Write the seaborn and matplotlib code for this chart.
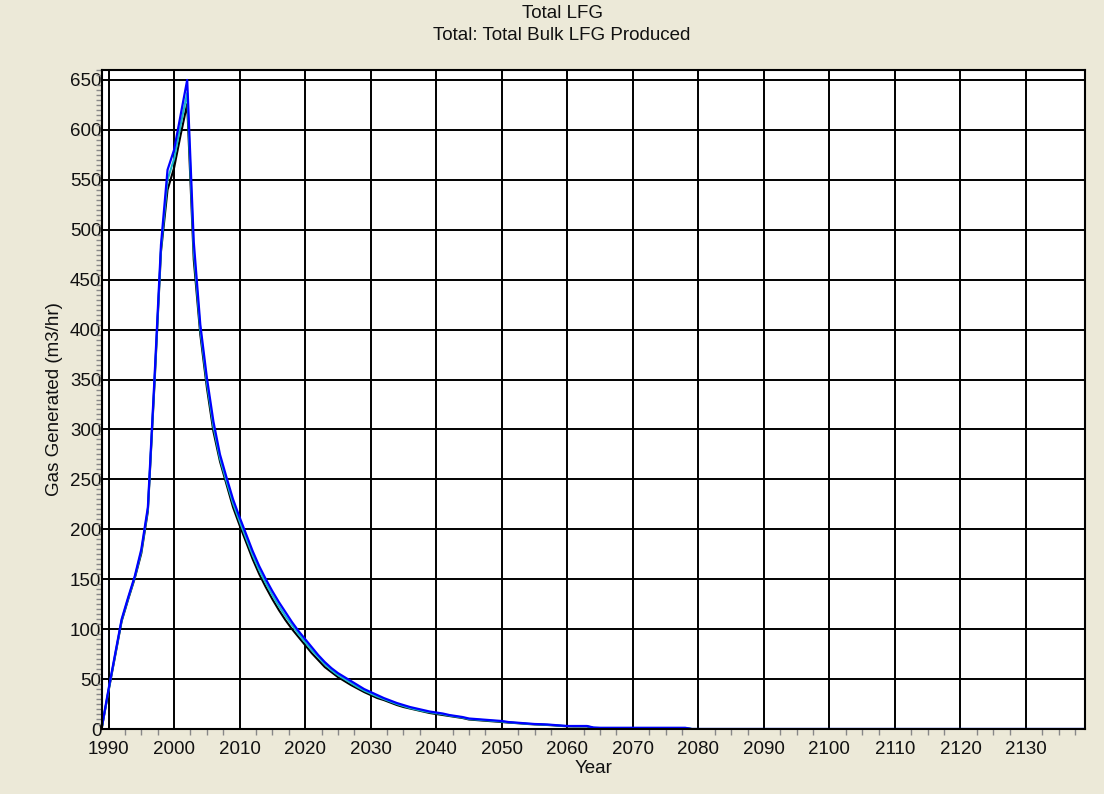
import matplotlib
matplotlib.use("Agg")
import matplotlib.pyplot as plt
from matplotlib.ticker import MultipleLocator
import seaborn as sns
import pandas as pd

# ---- data ----
years = list(range(1989, 2080)) + [2139]

blue = [3, 40, 75, 110, 132, 153, 180, 222, 350, 485,
        560, 580, 615, 650, 488, 405, 352, 308, 275, 252,
        230, 212, 195, 178, 163, 150, 138, 127, 117, 107,
        98, 90, 82, 74, 67, 61, 56, 52, 48, 44,
        40, 37, 34, 31, 28.5, 26, 24, 22, 20.5, 19,
        17.5, 16.5, 15.5, 14, 13, 12, 10.5, 10, 9.5, 9,
        8.5, 8, 7, 6.5, 6, 5.5, 5, 4.8, 4.5, 4,
        3.5, 3, 3, 3, 3, 1.5, 1.2, 1.2, 1.2, 1.2,
        1.2, 1.2, 1.2, 1.2, 1.2, 1.2, 1.2, 1.2, 1.2, 1.2,
        0, 0]

teal = [2.5, 39, 74, 109, 131, 152, 178, 220, 347, 481,
        550, 571, 605, 637, 479, 400, 347, 303, 271, 248,
        226, 208, 191, 174, 159, 146, 134, 123, 113, 104,
        95, 87, 79, 72, 65, 59, 54, 50, 46, 42,
        38.5, 35.5, 32.5, 30, 27.5, 25, 23, 21, 19.5, 18,
        16.8, 15.8, 14.8, 13.5, 12.5, 11.5, 10, 9.5, 9, 8.5,
        8, 7.5, 6.7, 6.2, 5.7, 5.2, 4.8, 4.5, 4.2, 3.8,
        3.3, 2.9, 2.8, 2.8, 2.8, 1.2, 1, 1, 1, 1,
        1, 1, 1, 1, 1, 1, 1, 1, 1, 1,
        0, 0]

black = [2, 38, 73, 108, 130, 151, 176, 218, 344, 478,
         540, 562, 595, 626, 470, 395, 342, 298, 268, 245,
         222, 204, 187, 170, 155, 142, 130, 119, 109, 100,
         92, 84, 76, 69, 62, 57, 52, 48, 44, 40.5,
         37, 34, 31, 29, 26.5, 24, 22, 20.5, 19, 17.5,
         16, 15, 14, 13, 12, 11, 9.5, 9, 8.5, 8,
         7.5, 7, 6.4, 6, 5.5, 5, 4.6, 4.3, 4, 3.6,
         3.1, 2.7, 2.6, 2.6, 2.6, 0.8, 0.8, 0.8, 0.8, 0.8,
         0.8, 0.8, 0.8, 0.8, 0.8, 0.8, 0.8, 0.8, 0.8, 0.8,
         0, 0]

x_ticks = list(range(1990, 2140, 10))
y_ticks = list(range(0, 651, 50))

# ---- styling ----
sns.set_style("white")
plt.rcParams['font.family'] = ['Liberation Sans', 'DejaVu Sans']

BG = "#ECE9D8"
FS = 13.5
TXT = "#111111"
fig = plt.figure(figsize=(11.04, 7.94), dpi=100, facecolor=BG)
ax = fig.add_axes([102 / 1104, 1 - 729 / 794, (1085 - 102) / 1104, (729 - 70) / 794])
ax.set_facecolor("white")

df = pd.DataFrame({"Year": years, "black": black, "teal": teal, "blue": blue})

sns.lineplot(data=df, x="Year", y="black", ax=ax, color="black", linewidth=1.5)
sns.lineplot(data=df, x="Year", y="teal", ax=ax, color="#19B8C8", linewidth=1.5)
sns.lineplot(data=df, x="Year", y="blue", ax=ax, color="#0000FF", linewidth=1.6)

ax.set_xlim(1989, 2139)
ax.set_ylim(0, 660)
ax.set_xticks(x_ticks)
ax.set_xticklabels([str(t) for t in x_ticks])
ax.set_yticks(y_ticks)
ax.set_yticklabels([str(t) for t in y_ticks])
ax.xaxis.set_minor_locator(MultipleLocator(2.5))
ax.yaxis.set_minor_locator(MultipleLocator(5))

ax.grid(True, which="major", color="black", linewidth=1.4)
ax.set_axisbelow(True)

ax.tick_params(axis="both", which="major", length=0, labelsize=FS, colors=TXT)
ax.tick_params(axis="x", which="major", pad=9)
ax.tick_params(axis="y", which="major", pad=0.5)
ax.tick_params(axis="both", which="minor", length=4, width=1, color="#888888", direction="out")
ax.tick_params(axis="both", which="both", bottom=True, left=True)

for s in ax.spines.values():
    s.set_color("black")
    s.set_linewidth(1.5)

ax.set_xlabel("Year", fontsize=FS, labelpad=1, color=TXT)
ax.set_ylabel("Gas Generated (m3/hr)", fontsize=FS, labelpad=5, color=TXT)

fig.text(562 / 1104, 1 - 13 / 794, "Total LFG", ha="center", va="center", fontsize=FS, color=TXT)
fig.text(562 / 1104, 1 - 36 / 794, "Total: Total Bulk LFG Produced", ha="center", va="center",
         fontsize=FS, color=TXT)

fig.savefig("out.png", dpi=100, facecolor=BG)
